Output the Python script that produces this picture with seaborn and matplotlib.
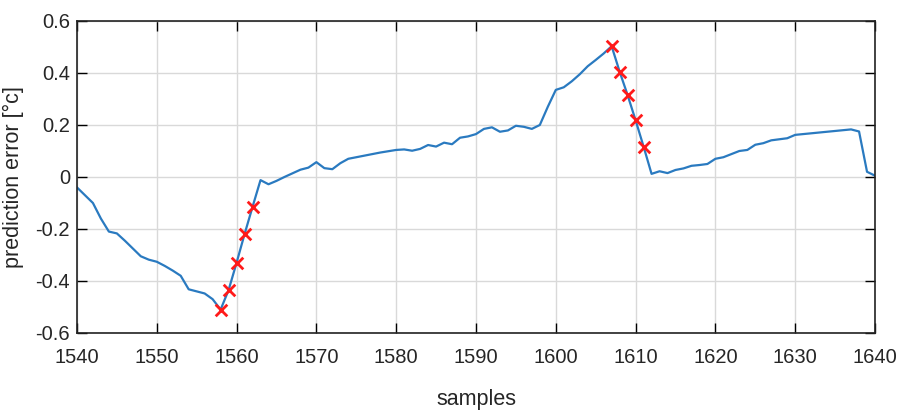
import numpy as np
import pandas as pd
import matplotlib
matplotlib.use("Agg")
import matplotlib.pyplot as plt
import seaborn as sns

# ------------------------------------------------------------
# data
# ------------------------------------------------------------
samples = list(range(1540, 1641))
pred_error = [
    -0.040, -0.070, -0.100, -0.160, -0.210, -0.217, -0.245, -0.275, -0.305, -0.318,
    -0.326, -0.342, -0.360, -0.380, -0.432, -0.440, -0.448, -0.470, -0.510, -0.435,
    -0.330, -0.220, -0.115, -0.012, -0.028, -0.015, 0.000, 0.014, 0.028, 0.036,
    0.057, 0.034, 0.030, 0.053, 0.070, 0.076, 0.082, 0.088, 0.094, 0.099,
    0.104, 0.106, 0.101, 0.108, 0.123, 0.117, 0.132, 0.126, 0.151, 0.156,
    0.165, 0.185, 0.191, 0.174, 0.179, 0.197, 0.193, 0.185, 0.200, 0.270,
    0.335, 0.345, 0.368, 0.395, 0.426, 0.450, 0.475, 0.503, 0.405, 0.315,
    0.218, 0.117, 0.012, 0.022, 0.015, 0.027, 0.033, 0.043, 0.046, 0.050,
    0.070, 0.076, 0.088, 0.100, 0.104, 0.124, 0.130, 0.141, 0.145, 0.149,
    0.162, 0.165, 0.168, 0.171, 0.174, 0.177, 0.180, 0.183, 0.175, 0.020,
    0.005,
]
flagged = [1558, 1559, 1560, 1561, 1562, 1607, 1608, 1609, 1610, 1611]

xticks = list(range(1540, 1641, 10))
yticks = [-0.6, -0.4, -0.2, 0, 0.2, 0.4, 0.6]
ytick_labels = ["-0.6", "-0.4", "-0.2", "0", "0.2", "0.4", "0.6"]

df = pd.DataFrame({"samples": samples, "err": pred_error})
df_flag = df[df["samples"].isin(flagged)]

# ------------------------------------------------------------
# style
# ------------------------------------------------------------
sns.set_style("whitegrid", {"grid.color": "#dcdcdc", "axes.edgecolor": "black"})
plt.rcParams["font.family"] = ["Liberation Sans", "DejaVu Sans"]

fig = plt.figure(figsize=(8.98, 4.19), dpi=100)
ax = fig.add_axes([0.0857, 0.2053, 0.8887, 0.7446])

sns.lineplot(data=df, x="samples", y="err", color="#2a7ac0", linewidth=1.6, ax=ax)
sns.scatterplot(data=df_flag, x="samples", y="err", marker="x", color="#ff1a1a",
                s=70, linewidth=2.0, zorder=5, ax=ax)

ax.set_xlim(1540, 1640)
ax.set_ylim(-0.6, 0.6)
ax.set_xticks(xticks)
ax.set_yticks(yticks)
ax.set_yticklabels(ytick_labels)
ax.tick_params(direction="in", length=7, width=1, colors="black",
               labelcolor="#262626", labelsize=14.5, top=True, right=True,
               bottom=True, left=True)
ax.tick_params(axis="x", pad=11)
ax.tick_params(axis="y", pad=5)
for sp in ax.spines.values():
    sp.set_color("#222222")
    sp.set_linewidth(1.2)
ax.grid(True, color="#d9d9d9", linewidth=1)

ax.set_xlabel("samples", fontsize=15.5, color="#262626", labelpad=16)
ax.set_ylabel("prediction error [°c]", fontsize=15.5, color="#262626", labelpad=8)

fig.savefig("out.png", dpi=100)
